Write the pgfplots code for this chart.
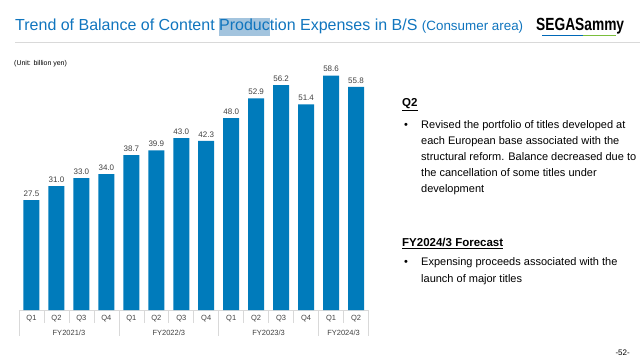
\documentclass[border=0pt]{standalone}
\usepackage{pgfplots}
\pgfplotsset{compat=1.18}
\usepackage{fontspec}
\setmainfont{Liberation Sans}
\definecolor{barblue}{RGB}{0,123,187}
\definecolor{titleblue}{RGB}{16,117,190}
\definecolor{hl}{RGB}{163,196,222}
\definecolor{sepgray}{RGB}{217,217,217}
\definecolor{lblgray}{RGB}{64,64,64}
\definecolor{logoblue}{RGB}{0,104,183}
\definecolor{logogreen}{RGB}{122,190,60}
\begin{document}
\begin{tikzpicture}[x=1pt,y=1pt]
\path[use as bounding box] (0,0) rectangle (640,359);
% title
\node[anchor=base west,inner sep=0pt,text=titleblue] at (15,328)
 {\fontsize{16}{18}\selectfont Trend of Balance of Content {\setlength\fboxsep{0pt}\colorbox{hl}{\strut Produc}}tion Expenses in B/S \fontsize{13.4}{15}\selectfont(Consumer area)};
\draw[sepgray,line width=1.6pt] (15,316.5) -- (640,316.5);
% logo
\node[anchor=base west,inner sep=0pt] at (536,328) {\scalebox{0.86}[1.1]{\fontsize{16}{16}\selectfont\bfseries SEGASammy}};
\draw[logoblue,line width=1.5pt] (542,323.5) -- (583,323.5);
\draw[logogreen,line width=1.5pt] (583,323.5) -- (616,323.5);
% unit
\node[anchor=base west,inner sep=0pt] at (14,293.5) {\fontsize{7}{8}\selectfont (Unit: billion yen)};
\begin{axis}[
  at={(19pt,49pt)}, anchor=south west,
  scale only axis, width=349.5pt, height=248pt,
  xmin=-0.5, xmax=13.5, ymin=0, ymax=62,
  axis y line=none,
  axis x line*=bottom,
  axis line style={sepgray, line width=0.8pt},
  x axis line style={-},
  xtick={0,...,13},
  xticklabels={Q1,Q2,Q3,Q4,Q1,Q2,Q3,Q4,Q1,Q2,Q3,Q4,Q1,Q2},
  xtick style={draw=none},
  xticklabel style={font=\fontsize{7.5}{8}\selectfont, text=lblgray, yshift=-2pt},
  clip=false,
  nodes near coords,
  nodes near coords style={font=\fontsize{8}{9}\selectfont, text=lblgray, /pgf/number format/.cd, fixed, fixed zerofill, precision=1, assume math mode=true},
]
\addplot[ybar, bar width=16pt, fill=barblue, draw=none] coordinates {
(0,27.5) (1,31.0) (2,33.0) (3,34.0)
(4,38.7) (5,39.9) (6,43.0) (7,42.3)
(8,48.0) (9,52.9) (10,56.2) (11,51.4)
(12,58.6) (13,55.8)};
\pgfplotsinvokeforeach{0.5,1.5,2.5,4.5,5.5,6.5,8.5,9.5,10.5,12.5}{
  \draw[sepgray,line width=0.6pt] (axis cs:#1,0) -- ([yshift=-13pt]axis cs:#1,0);
}
\pgfplotsinvokeforeach{-0.5,3.5,7.5,11.5,13.5}{
  \draw[sepgray,line width=0.6pt] (axis cs:#1,0) -- ([yshift=-26pt]axis cs:#1,0);
}
\node[font=\fontsize{7.5}{8}\selectfont, text=lblgray] at ([yshift=-22.5pt]axis cs:1.5,0) {FY2021/3};
\node[font=\fontsize{7.5}{8}\selectfont, text=lblgray] at ([yshift=-22.5pt]axis cs:5.5,0) {FY2022/3};
\node[font=\fontsize{7.5}{8}\selectfont, text=lblgray] at ([yshift=-22.5pt]axis cs:9.5,0) {FY2023/3};
\node[font=\fontsize{7.5}{8}\selectfont, text=lblgray] at ([yshift=-22.5pt]axis cs:12.5,0) {FY2024/3};
\end{axis}
% right text
\begin{scope}[every node/.style={anchor=base west,inner sep=0pt,font=\fontsize{11}{13}\selectfont}]
\node at (402,252) {\fontsize{11.5}{13}\selectfont\bfseries\underline{Q2}};
\node at (404,230) {•};
\node at (421,230) {Revised the portfolio of titles developed at};
\node at (421,214) {each European base associated with the};
\node at (421,198) {structural reform. Balance decreased due to};
\node at (421,182) {the cancellation of some titles under};
\node at (421,166) {development};
\node at (402,112) {\fontsize{11.5}{13}\selectfont\bfseries\underline{FY2024/3 Forecast}};
\node at (404,93) {•};
\node at (421,93) {Expensing proceeds associated with the};
\node at (421,77) {launch of major titles};
\end{scope}
\node[anchor=base east,inner sep=0pt] at (630,4) {\fontsize{8}{9}\selectfont -52-};
\end{tikzpicture}
\end{document}
